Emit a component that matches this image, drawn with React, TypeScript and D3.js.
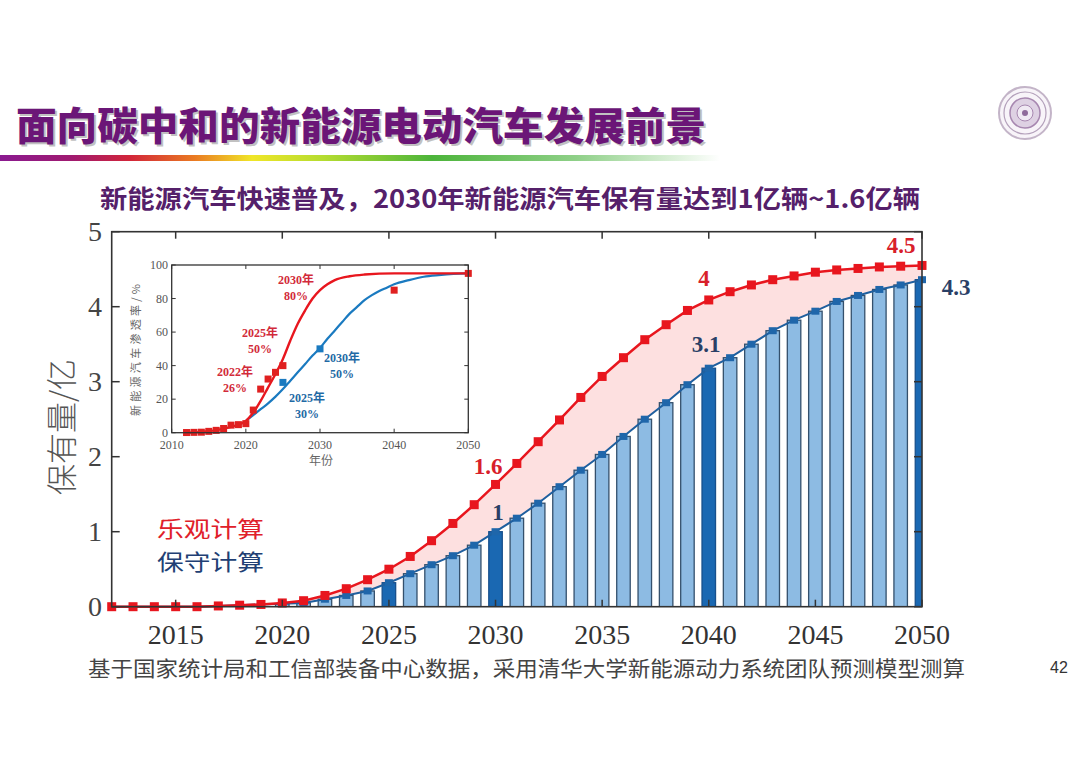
import * as d3 from 'd3'

// main chart: NEV stock, 100 million vehicles
const years = [
  2012, 2013, 2014, 2015, 2016, 2017, 2018, 2019, 2020, 2021, 2022, 2023, 2024,
  2025, 2026, 2027, 2028, 2029, 2030, 2031, 2032, 2033, 2034, 2035, 2036, 2037,
  2038, 2039, 2040, 2041, 2042, 2043, 2044, 2045, 2046, 2047, 2048, 2049, 2050,
]
const optimistic = [
  0, 0, 0, 0, 0, 0.01, 0.02, 0.03, 0.05, 0.08, 0.15, 0.24, 0.36, 0.5, 0.67,
  0.88, 1.11, 1.36, 1.63, 1.91, 2.2, 2.49, 2.79, 3.07, 3.32, 3.56, 3.76, 3.95,
  4.09, 4.2, 4.29, 4.36, 4.41, 4.46, 4.49, 4.51, 4.53, 4.54, 4.55,
]
const conservative = [
  0, 0, 0, 0, 0, 0.01, 0.02, 0.03, 0.04, 0.05, 0.1, 0.15, 0.21, 0.32, 0.44,
  0.56, 0.68, 0.82, 1.0, 1.18, 1.38, 1.6, 1.82, 2.03, 2.27, 2.5, 2.72, 2.96,
  3.18, 3.32, 3.5, 3.68, 3.82, 3.94, 4.07, 4.15, 4.23, 4.29, 4.36,
]
const highlightYears = [2025, 2030, 2040, 2050]
const xTicks = [2015, 2020, 2025, 2030, 2035, 2040, 2045, 2050]
const yTicks = [0, 1, 2, 3, 4, 5]

// inset: penetration rate, %
const insetRedCurveYears = [
  2012, 2014, 2016, 2018, 2020, 2021, 2022, 2023, 2024, 2025, 2026, 2027, 2028,
  2029, 2030, 2031, 2032, 2034, 2036, 2040, 2045, 2050,
]
const insetRedCurve = [
  0, 0.5, 1.5, 3.5, 7, 12, 19, 27, 35, 44, 55, 65, 73, 80, 85, 88.5, 91, 93.3,
  94.3, 95, 95, 95,
]
const insetBlueCurveYears = [
  2020, 2021, 2022, 2023, 2024, 2025, 2026, 2027, 2028, 2029, 2030, 2031, 2032,
  2033, 2034, 2035, 2036, 2037, 2038, 2039, 2040, 2042, 2044, 2046, 2048, 2050,
]
const insetBlueCurve = [
  7, 10.5, 14, 17.5, 21.5, 26, 31, 36, 41, 46, 50.5, 56, 61, 66, 71, 75, 79, 82,
  84.5, 86.5, 88.5, 91, 93, 94, 94.7, 95,
]
const insetRedPointYears = [
  2012, 2013, 2014, 2015, 2016, 2017, 2018, 2019, 2020, 2021, 2022, 2023, 2024,
  2025, 2040, 2050,
]
const insetRedPoints = [
  0.1, 0.2, 0.3, 0.8, 1.4, 2.5, 4.5, 4.8, 5.4, 13.5, 26, 32, 36, 40, 85, 95,
]
const insetBluePointYears = [2025, 2030]
const insetBluePoints = [30, 50]
const insetXTicks = [2010, 2020, 2030, 2040, 2050]
const insetYTicks = [0, 20, 40, 60, 80, 100]

const RED = '#e8161e'
const BLUE_LINE = '#1f5f9e'
const NAVY = '#213f74'
const SERIF = '"Liberation Serif", "Times New Roman", serif'
const CJK = '"Noto Sans CJK SC", "Noto Sans", sans-serif'

export default function App() {
  const width = 1080
  const height = 764

  const x = d3.scaleLinear().domain([2012, 2050]).range([111.7, 922])
  const y = d3.scaleLinear().domain([0, 5]).range([606.7, 231.7])
  const [x0, x1] = x.range()
  const [y0, y1] = y.range()

  const rows = years.map((yr, i) => ({ yr, hi: optimistic[i], lo: conservative[i] }))

  const band = d3
    .area<(typeof rows)[number]>()
    .x((d) => x(d.yr))
    .y0((d) => y(d.lo))
    .y1((d) => y(d.hi))
  const redLine = d3
    .line<(typeof rows)[number]>()
    .x((d) => x(d.yr))
    .y((d) => y(d.hi))
  const blueLine = d3
    .line<(typeof rows)[number]>()
    .x((d) => x(d.yr))
    .y((d) => y(d.lo))

  const barW = 13.5

  // inset scales
  const ix = d3.scaleLinear().domain([2010, 2050]).range([171.7, 468.3])
  const iy = d3.scaleLinear().domain([0, 100]).range([432.7, 265])
  const [ix0, ix1] = ix.range()
  const [iy0, iy1] = iy.range()
  const curve = d3
    .line<[number, number]>()
    .x((d) => ix(d[0]))
    .y((d) => iy(d[1]))
    .curve(d3.curveMonotoneX)
  const redCurvePath = curve(insetRedCurveYears.map((yr, i) => [yr, insetRedCurve[i]])) || ''
  const blueCurvePath = curve(insetBlueCurveYears.map((yr, i) => [yr, insetBlueCurve[i]])) || ''

  return (
    <svg
      width={width}
      height={height}
      style={{ position: 'absolute', left: 0, top: 0, background: '#fff' }}
    >
      <defs>
        <linearGradient id="rainbow" x1="0" x2="1" y1="0" y2="0">
          <stop offset="0" stopColor="#8a1a90" />
          <stop offset="0.1" stopColor="#a01a70" />
          <stop offset="0.18" stopColor="#d2253a" />
          <stop offset="0.27" stopColor="#ea7a22" />
          <stop offset="0.35" stopColor="#f0e628" />
          <stop offset="0.45" stopColor="#b4dc30" />
          <stop offset="0.6" stopColor="#4cb43a" />
          <stop offset="0.8" stopColor="#8fd088" />
          <stop offset="1" stopColor="#ffffff" />
        </linearGradient>
        <clipPath id="plot">
          <rect x={x0} y={y1} width={x1 - x0} height={y0 - y1} />
        </clipPath>
      </defs>

      {/* header */}
      <text
        x={18}
        y={142}
        fontFamily={CJK}
        fontWeight={900}
        fontSize={39}
        fill="#999"
        opacity={0.6}
        textLength={690}
        lengthAdjust="spacingAndGlyphs"
      >
        面向碳中和的新能源电动汽车发展前景
      </text>
      <text
        x={16}
        y={140}
        fontFamily={CJK}
        fontWeight={900}
        fontSize={39}
        fill="#6b1677"
        textLength={690}
        lengthAdjust="spacingAndGlyphs"
      >
        面向碳中和的新能源电动汽车发展前景
      </text>
      <rect x={0} y={155} width={720} height={6} fill="url(#rainbow)" />

      {/* logo */}
      <g transform="translate(1025,113)" opacity={0.75}>
        <circle r={26} fill="#f6f1f7" stroke="#b09cb6" strokeWidth={2} />
        <circle r={21} fill="none" stroke="#9a80a4" strokeWidth={1.2} />
        <circle r={15} fill="#d4c2da" stroke="#8a6096" strokeWidth={1.5} />
        <circle r={8} fill="#ece2f0" stroke="#8a6096" strokeWidth={1} />
        <circle r={3} fill="#6a3a7a" />
      </g>

      <text
        x={100}
        y={208}
        fontFamily={CJK}
        fontWeight={700}
        fontSize={25}
        fill="#55206a"
        textLength={820}
        lengthAdjust="spacingAndGlyphs"
      >
        新能源汽车快速普及，2030年新能源汽车保有量达到1亿辆~1.6亿辆
      </text>

      {/* band between scenarios */}
      <path d={band(rows) || ''} fill="#fde0e0" />

      {/* conservative bars */}
      <g clipPath="url(#plot)">
        {rows
          .filter((d) => d.lo > 0.03)
          .map((d) => {
            const hl = highlightYears.includes(d.yr)
            return (
              <rect
                key={d.yr}
                x={x(d.yr) - barW / 2}
                y={y(d.lo)}
                width={barW}
                height={y(0) - y(d.lo)}
                fill={hl ? '#1a68b2' : '#8dbbe3'}
                stroke={hl ? '#18508c' : '#34506c'}
                strokeWidth={1.3}
              />
            )
          })}
      </g>

      <path d={blueLine(rows) || ''} fill="none" stroke={BLUE_LINE} strokeWidth={2} />
      {rows
        .filter((d) => d.lo > 0.03)
        .map((d) => (
          <rect
            key={d.yr}
            x={x(d.yr) - 4}
            y={y(d.lo) - 3.5}
            width={8}
            height={7}
            fill="#1f66aa"
          />
        ))}

      <path d={redLine(rows) || ''} fill="none" stroke={RED} strokeWidth={2.5} />
      {rows.map((d) => (
        <rect
          key={d.yr}
          x={x(d.yr) - 4.5}
          y={y(d.hi) - 4.5}
          width={9}
          height={9}
          fill={RED}
        />
      ))}

      {/* frame and ticks */}
      <rect
        x={x0}
        y={y1}
        width={x1 - x0}
        height={y0 - y1}
        fill="none"
        stroke="#333"
        strokeWidth={1.6}
      />
      {xTicks.map((t) => (
        <g key={t}>
          <line x1={x(t)} x2={x(t)} y1={y0} y2={y0 - 7} stroke="#333" strokeWidth={1.5} />
          <line x1={x(t)} x2={x(t)} y1={y1} y2={y1 + 7} stroke="#333" strokeWidth={1.5} />
          <text
            x={x(t)}
            y={644}
            textAnchor="middle"
            fontFamily={SERIF}
            fontSize={28}
            fill="#333"
          >
            {t}
          </text>
        </g>
      ))}
      {yTicks.map((t) => (
        <g key={t}>
          <line x1={x0} x2={x0 + 8} y1={y(t)} y2={y(t)} stroke="#333" strokeWidth={1.5} />
          <line x1={x1} x2={x1 - 8} y1={y(t)} y2={y(t)} stroke="#333" strokeWidth={1.5} />
          <text
            x={102}
            y={y(t)}
            dy="0.34em"
            textAnchor="end"
            fontFamily={SERIF}
            fontSize={28}
            fill="#444"
          >
            {t}
          </text>
        </g>
      ))}
      <text
        transform="translate(62,427) rotate(-90)"
        textAnchor="middle"
        dy="0.36em"
        fontFamily={CJK}
        fontWeight={300}
        fontSize={31}
        fill="#555"
      >
        保有量/亿
      </text>

      {/* value labels */}
      <g fontFamily={SERIF} fontWeight={700} fontSize={23}>
        <text x={488} y={466} dy="0.34em" textAnchor="middle" fill="#d8202a">1.6</text>
        <text x={498} y={512} dy="0.34em" textAnchor="middle" fill="#2a3f66">1</text>
        <text x={706} y={344} dy="0.34em" textAnchor="middle" fill="#2a3f66">3.1</text>
        <text x={704} y={278} dy="0.34em" textAnchor="middle" fill="#d8202a">4</text>
        <text x={901} y={245} dy="0.34em" textAnchor="middle" fill="#d8202a">4.5</text>
        <text x={956} y={287} dy="0.34em" textAnchor="middle" fill="#2a3f66">4.3</text>
      </g>

      {/* legend */}
      <text
        x={157}
        y={529}
        dy="0.36em"
        fontFamily={CJK}
        fontSize={22}
        fill="#e0202a"
        textLength={107}
        lengthAdjust="spacingAndGlyphs"
      >
        乐观计算
      </text>
      <text
        x={157}
        y={562}
        dy="0.36em"
        fontFamily={CJK}
        fontSize={22}
        fill={NAVY}
        textLength={107}
        lengthAdjust="spacingAndGlyphs"
      >
        保守计算
      </text>

      {/* inset */}
      <rect x={ix0} y={iy1} width={ix1 - ix0} height={iy0 - iy1} fill="#fff" />
      <path d={blueCurvePath} fill="none" stroke="#1a7ac0" strokeWidth={2.2} />
      <path d={redCurvePath} fill="none" stroke="#e8161e" strokeWidth={2.4} />
      {insetRedPointYears.map((yr, i) => (
        <rect
          key={yr}
          x={ix(yr) - 3.5}
          y={iy(insetRedPoints[i]) - 3.5}
          width={7}
          height={7}
          fill="#e02020"
        />
      ))}
      {insetBluePointYears.map((yr, i) => (
        <rect
          key={yr}
          x={ix(yr) - 3.5}
          y={iy(insetBluePoints[i]) - 3.5}
          width={7}
          height={7}
          fill="#1a7ac0"
        />
      ))}
      <rect
        x={ix0}
        y={iy1}
        width={ix1 - ix0}
        height={iy0 - iy1}
        fill="none"
        stroke="#333"
        strokeWidth={1.3}
      />
      {insetXTicks.map((t) => (
        <g key={t}>
          <line x1={ix(t)} x2={ix(t)} y1={iy0} y2={iy0 - 4} stroke="#333" />
          <line x1={ix(t)} x2={ix(t)} y1={iy1} y2={iy1 + 4} stroke="#333" />
          <text
            x={ix(t)}
            y={449}
            textAnchor="middle"
            fontFamily={SERIF}
            fontSize={12}
            fill="#555"
          >
            {t}
          </text>
        </g>
      ))}
      {insetYTicks.map((t) => (
        <g key={t}>
          <line x1={ix0} x2={ix0 + 4} y1={iy(t)} y2={iy(t)} stroke="#333" />
          <line x1={ix1} x2={ix1 - 4} y1={iy(t)} y2={iy(t)} stroke="#333" />
          <text
            x={168}
            y={iy(t)}
            dy="0.34em"
            textAnchor="end"
            fontFamily={SERIF}
            fontSize={12}
            fill="#555"
          >
            {t}
          </text>
        </g>
      ))}
      <text
        transform="translate(136,350) rotate(-90)"
        textAnchor="middle"
        dy="0.36em"
        fontFamily={CJK}
        fontSize={11}
        fill="#666"
        textLength={132}
      >
        新能源汽车渗透率/%
      </text>
      <text x={321} y={461} dy="0.36em" textAnchor="middle" fontFamily={CJK} fontSize={12} fill="#666">
        年份
      </text>
      <g fontFamily={`${SERIF}, ${CJK}`} fontWeight={700} fontSize={12} textAnchor="middle">
        <text x={296} y={284} fill="#d22a3a">2030年</text>
        <text x={296} y={300} fill="#d22a3a">80%</text>
        <text x={260} y={337} fill="#d22a3a">2025年</text>
        <text x={260} y={353} fill="#d22a3a">50%</text>
        <text x={235} y={376} fill="#d22a3a">2022年</text>
        <text x={235} y={392} fill="#d22a3a">26%</text>
        <text x={307} y={402} fill="#1f6aa5">2025年</text>
        <text x={307} y={418} fill="#1f6aa5">30%</text>
        <text x={342} y={362} fill="#1f6aa5">2030年</text>
        <text x={342} y={378} fill="#1f6aa5">50%</text>
      </g>

      {/* footer */}
      <text
        x={88}
        y={668}
        dy="0.36em"
        fontFamily={CJK}
        fontSize={21}
        fill="#444"
        textLength={877}
        lengthAdjust="spacingAndGlyphs"
      >
        基于国家统计局和工信部装备中心数据，采用清华大学新能源动力系统团队预测模型测算
      </text>
      <text x={1050} y={667} dy="0.36em" fontFamily='"Liberation Sans", Arial, sans-serif' fontSize={16} fill="#333">
        42
      </text>
    </svg>
  )
}
